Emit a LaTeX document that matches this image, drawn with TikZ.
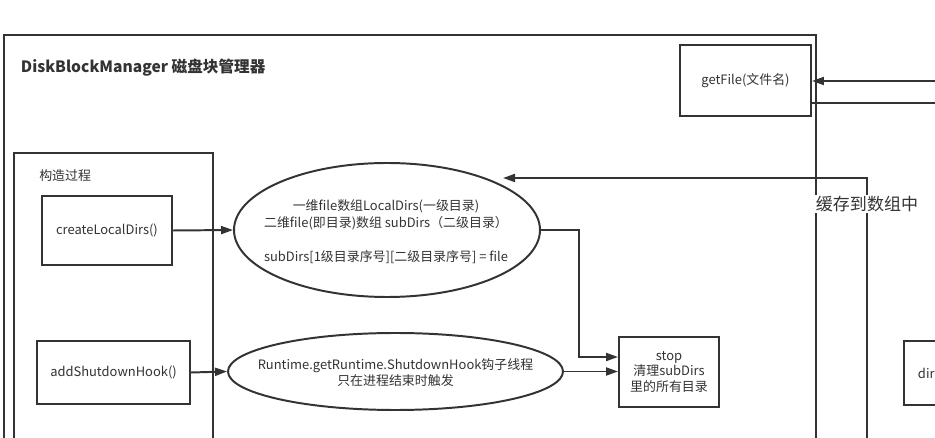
\documentclass[tikz,border=0pt]{standalone}
\usepackage{fontspec}
\setmainfont{Noto Sans CJK SC}
\usetikzlibrary{shapes.geometric,arrows.meta}
\definecolor{ink}{HTML}{333333}
\newcommand{\pxu}{0.025cm}
\tikzset{
  box/.style={draw=ink, line width=1.4pt, rectangle, inner sep=2pt, align=center, text=ink, font=\fontsize{9.2}{11.2}\selectfont},
  oval/.style={draw=ink, line width=1.4pt, ellipse, inner sep=0pt},
  txt/.style={text=ink, align=center, inner sep=0pt, font=\fontsize{9.2}{12}\selectfont},
  link/.style={draw=ink, line width=1.4pt},
  arr/.style={link, -{Triangle[length=0.3cm,width=0.2cm]}},
}
\begin{document}
\begin{tikzpicture}[x=0.025cm,y=-0.025cm]
\useasboundingbox (0,0) rectangle (935,438);
\clip (0,0) rectangle (935,438);
\fill[white] (0,0) rectangle (935,438);
\draw[link] (4,35) rectangle (816,470);
\node[anchor=west, text=ink, font=\fontsize{11.1}{13}\selectfont\bfseries] (title) at (16,68) {DiskBlockManager 磁盘块管理器};
\node[box, minimum width=131*\pxu, minimum height=71*\pxu] (getfile) at (745.5,80.5) {getFile(文件名)};
\coordinate (inA) at (945,81);
\coordinate (outA) at (945,103);
\draw[arr] (inA) -- (inA -| getfile.east);
\draw[link] (getfile.east |- outA) -- (outA);
\draw[link] (14,153) rectangle (213,470);
\node[anchor=west, txt] (ctor) at (39,176) {构造过程};
\node[box, minimum width=130*\pxu, minimum height=69*\pxu] (create) at (107,230.5) {createLocalDirs()};
\node[box, minimum width=153*\pxu, minimum height=63*\pxu] (addhook) at (113.5,372.5) {addShutdownHook()};
\node[oval, minimum width=306*\pxu, minimum height=134*\pxu] (local) at (387,230) {};
\node[txt] (localtxt) at (386,231.5) {一维file数组LocalDirs(一级目录)\\二维file(即目录)数组 subDirs（二级目录）\\[12pt]subDirs[1级目录序号][二级目录序号] = file};
\node[oval, minimum width=335*\pxu, minimum height=77*\pxu] (hook) at (395.5,371.5) {};
\node[txt, font=\fontsize{9.2}{11.4}\selectfont] (hooktxt) at (395.5,373) {Runtime.getRuntime.ShutdownHook钩子线程\\只在进程结束时触发};
\node[box, minimum width=100*\pxu, minimum height=70*\pxu] (stop) at (669,372) {stop\\清理subDirs\\里的所有目录};
\node[box, anchor=west, minimum height=64*\pxu, text width=60*\pxu, align=left, inner xsep=14*\pxu] (dirbox) at (903,373) {dir};
\draw[arr] (create.east) -- (local.west);
\draw[arr] (addhook.east) -- (hook.west);
\draw[arr] (hook.east) -- (hook.east -| stop.west);
\draw[arr] (local.east) -- ++(38,0) |- ([yshift=0.375cm]stop.west);
\coordinate (cacheIn) at (867,470);
\coordinate (cacheEnd) at (503,178);
\draw[arr] (cacheIn) |- (cacheEnd);
\node[fill=white, text=ink, inner sep=1pt, font=\fontsize{12.1}{14}\selectfont] (cache) at (867,204) {缓存到数组中};
\end{tikzpicture}
\end{document}
